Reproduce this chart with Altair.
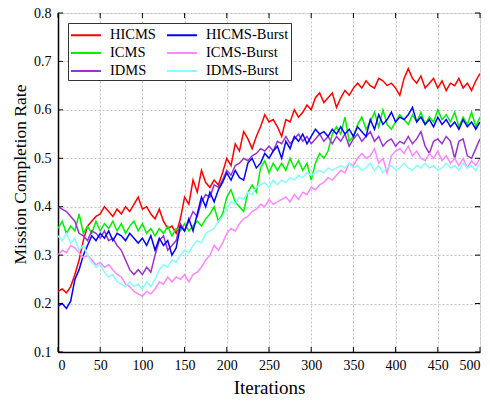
import altair as alt
import pandas as pd

iters = list(range(0, 501, 5))

hicms = [0.225, 0.23, 0.222, 0.235, 0.26, 0.29, 0.33, 0.36, 0.37, 0.38,
         0.385, 0.40, 0.39, 0.38, 0.395, 0.385, 0.40, 0.39, 0.405, 0.42,
         0.395, 0.40, 0.385, 0.375, 0.395, 0.37, 0.355, 0.36, 0.345, 0.375,
         0.42, 0.405, 0.455, 0.43, 0.475, 0.45, 0.44, 0.455, 0.445, 0.47,
         0.50, 0.485, 0.53, 0.515, 0.555, 0.54, 0.52, 0.545, 0.565, 0.59,
         0.575, 0.58, 0.565, 0.545, 0.58, 0.575, 0.60, 0.585, 0.595, 0.61,
         0.60, 0.625, 0.635, 0.615, 0.625, 0.635, 0.605, 0.625, 0.64, 0.63,
         0.645, 0.655, 0.645, 0.66, 0.65, 0.645, 0.665, 0.66, 0.65, 0.655,
         0.645, 0.63, 0.665, 0.685, 0.665, 0.655, 0.67, 0.645, 0.655, 0.665,
         0.645, 0.66, 0.64, 0.655, 0.65, 0.665, 0.645, 0.655, 0.64, 0.66, 0.675]

hicms_burst = [0.195, 0.20, 0.19, 0.205, 0.25, 0.27, 0.30, 0.32, 0.34, 0.33,
               0.345, 0.335, 0.35, 0.33, 0.345, 0.34, 0.33, 0.345, 0.335, 0.325,
               0.335, 0.32, 0.34, 0.31, 0.335, 0.32, 0.33, 0.30, 0.315, 0.36,
               0.35, 0.375, 0.35, 0.385, 0.42, 0.40, 0.43, 0.41, 0.435, 0.45,
               0.47, 0.455, 0.475, 0.46, 0.455, 0.49, 0.50, 0.48, 0.49, 0.51,
               0.50, 0.515, 0.525, 0.50, 0.535, 0.52, 0.545, 0.535, 0.55, 0.53,
               0.545, 0.56, 0.55, 0.555, 0.545, 0.56, 0.55, 0.565, 0.55, 0.56,
               0.545, 0.565, 0.555, 0.545, 0.58, 0.56, 0.59, 0.57, 0.58, 0.595,
               0.575, 0.585, 0.58, 0.59, 0.605, 0.575, 0.585, 0.57, 0.58, 0.565,
               0.585, 0.57, 0.58, 0.565, 0.575, 0.56, 0.58, 0.565, 0.575, 0.56, 0.575]

icms = [0.355, 0.37, 0.345, 0.36, 0.35, 0.385, 0.345, 0.36, 0.345, 0.37,
        0.35, 0.365, 0.355, 0.37, 0.35, 0.365, 0.345, 0.36, 0.37, 0.35,
        0.365, 0.345, 0.355, 0.34, 0.355, 0.345, 0.36, 0.34, 0.355, 0.35,
        0.365, 0.35, 0.36, 0.37, 0.36, 0.375, 0.385, 0.40, 0.37, 0.385,
        0.42, 0.435, 0.41, 0.40, 0.39, 0.43, 0.445, 0.43, 0.48, 0.495,
        0.47, 0.49, 0.475, 0.49, 0.475, 0.50, 0.48, 0.495, 0.475, 0.49,
        0.455, 0.49, 0.51, 0.50, 0.515, 0.55, 0.565, 0.55, 0.585, 0.535,
        0.545, 0.57, 0.585, 0.56, 0.575, 0.595, 0.565, 0.60, 0.57, 0.56,
        0.575, 0.59, 0.58, 0.57, 0.59, 0.575, 0.595, 0.57, 0.585, 0.575,
        0.60, 0.58, 0.59, 0.575, 0.595, 0.565, 0.585, 0.57, 0.595, 0.565, 0.585]

idms = [0.40, 0.395, 0.39, 0.38, 0.37, 0.345, 0.34, 0.33, 0.35, 0.345,
        0.335, 0.35, 0.33, 0.335, 0.32, 0.31, 0.29, 0.27, 0.26, 0.27,
        0.26, 0.275, 0.265, 0.30, 0.33, 0.34, 0.31, 0.32, 0.33, 0.365,
        0.35, 0.37, 0.39, 0.38, 0.41, 0.425, 0.42, 0.445, 0.44, 0.455,
        0.475, 0.465, 0.485, 0.49, 0.50, 0.495, 0.505, 0.51, 0.52, 0.515,
        0.525, 0.515, 0.535, 0.53, 0.545, 0.53, 0.54, 0.55, 0.535, 0.545,
        0.53, 0.54, 0.55, 0.535, 0.545, 0.53, 0.545, 0.535, 0.55, 0.525,
        0.54, 0.55, 0.535, 0.545, 0.555, 0.535, 0.545, 0.525, 0.535, 0.54,
        0.525, 0.535, 0.53, 0.545, 0.53, 0.54, 0.555, 0.525, 0.51, 0.535,
        0.54, 0.53, 0.545, 0.535, 0.50, 0.535, 0.54, 0.505, 0.50, 0.52, 0.54]

icms_burst = [0.30, 0.31, 0.305, 0.32, 0.315, 0.305, 0.295, 0.30, 0.29, 0.28,
              0.285, 0.275, 0.28, 0.27, 0.26, 0.255, 0.24, 0.235, 0.225, 0.22,
              0.215, 0.225, 0.22, 0.23, 0.245, 0.24, 0.255, 0.245, 0.255, 0.25,
              0.26, 0.245, 0.26, 0.265, 0.275, 0.29, 0.30, 0.32, 0.31, 0.325,
              0.345, 0.355, 0.35, 0.365, 0.375, 0.38, 0.39, 0.395, 0.405, 0.40,
              0.415, 0.405, 0.41, 0.415, 0.42, 0.41, 0.425, 0.415, 0.43, 0.425,
              0.44, 0.435, 0.445, 0.45, 0.46, 0.455, 0.465, 0.475, 0.47, 0.49,
              0.485, 0.50, 0.51, 0.50, 0.505, 0.52, 0.49, 0.50, 0.47, 0.505,
              0.515, 0.52, 0.51, 0.525, 0.505, 0.515, 0.50, 0.495, 0.51, 0.50,
              0.515, 0.495, 0.505, 0.49, 0.50, 0.485, 0.50, 0.48, 0.495, 0.485, 0.50]

idms_burst = [0.34, 0.33, 0.345, 0.325, 0.335, 0.31, 0.32, 0.30, 0.285, 0.275,
              0.28, 0.265, 0.255, 0.26, 0.245, 0.24, 0.235, 0.245, 0.235, 0.24,
              0.23, 0.245, 0.235, 0.25, 0.27, 0.28, 0.275, 0.29, 0.285, 0.30,
              0.31, 0.305, 0.32, 0.33, 0.325, 0.345, 0.35, 0.355, 0.37, 0.38,
              0.395, 0.41, 0.405, 0.42, 0.415, 0.43, 0.425, 0.44, 0.445, 0.45,
              0.44, 0.455, 0.445, 0.455, 0.45, 0.46, 0.455, 0.465, 0.46, 0.47,
              0.465, 0.47, 0.475, 0.47, 0.48, 0.475, 0.48, 0.485, 0.48, 0.49,
              0.48, 0.485, 0.475, 0.48, 0.49, 0.475, 0.485, 0.47, 0.48, 0.485,
              0.475, 0.48, 0.49, 0.48, 0.475, 0.485, 0.48, 0.49, 0.48, 0.485,
              0.475, 0.48, 0.49, 0.48, 0.485, 0.475, 0.49, 0.48, 0.485, 0.475, 0.49]

series_names = ["HICMS", "ICMS", "IDMS", "HICMS-Burst", "ICMS-Burst", "IDMS-Burst"]
series_colors = ["#FF0000", "#00EE00", "#9933CC", "#0000FF", "#FF88FF", "#88FFFF"]
values_by_name = {"HICMS": hicms, "HICMS-Burst": hicms_burst, "ICMS": icms,
                  "ICMS-Burst": icms_burst, "IDMS": idms, "IDMS-Burst": idms_burst}

x_ticks = [0, 50, 100, 150, 200, 250, 300, 350, 400, 450, 500]
y_ticks = [0.1, 0.2, 0.3, 0.4, 0.5, 0.6, 0.7, 0.8]

rows = []
for k, name in enumerate(series_names):
    for i, v in zip(iters, values_by_name[name]):
        rows.append({"iter": i, "value": v, "series": name, "order": k})
df = pd.DataFrame(rows)

W, H = 422, 339
FONT = "Liberation Serif"

xscale = alt.Scale(domain=[0, 500], nice=False, zero=False)
yscale = alt.Scale(domain=[0.1, 0.8], nice=False, zero=False)

lines = alt.Chart(df).mark_line(strokeWidth=1.5, clip=True).encode(
    x=alt.X("iter:Q", scale=xscale,
            axis=alt.Axis(values=x_ticks, title="Iterations", grid=True, gridDash=[2, 2],
                          gridColor="#c4c4c4", gridOpacity=1, ticks=False, labelPadding=6,
                          labelFont=FONT, labelFontSize=14, labelColor="black",
                          titleFont=FONT, titleFontSize=19, titleFontWeight="normal",
                          titleColor="black", titlePadding=6, domainColor="black",
                          domainWidth=1.5)),
    y=alt.Y("value:Q", scale=yscale,
            axis=alt.Axis(values=y_ticks, title="Mission Completion Rate", grid=True,
                          gridDash=[2, 2], gridColor="#c4c4c4", gridOpacity=1, ticks=False,
                          labelPadding=7, labelFont=FONT, labelFontSize=14,
                          labelColor="black", format=".1f", titleFont=FONT,
                          titleFontSize=17.5, titleFontWeight="normal", titleColor="black",
                          titleX=-38, titleY=161, titleBaseline="middle",
                          domainColor="black", domainWidth=1.5)),
    color=alt.Color("series:N",
                    scale=alt.Scale(domain=series_names, range=series_colors),
                    legend=alt.Legend(orient="none", legendX=10, legendY=10, columns=2,
                                      title=None, symbolType="M-1,0H2.333",
                                      symbolSize=324, symbolStrokeWidth=2,
                                      symbolFillColor="transparent",
                                      labelFont=FONT, labelFontSize=14.5,
                                      labelColor="black", strokeColor="#333333",
                                      fillColor="white", padding=2, rowPadding=1,
                                      columnPadding=7, labelOffset=20)),
    order=alt.Order("order:Q"),
    detail="series:N",
)

xt = pd.DataFrame({"t": x_ticks})
yt = pd.DataFrame({"t": y_ticks})

bottom_ticks = alt.Chart(xt).mark_rule(color="black", strokeWidth=1).encode(
    x=alt.X("t:Q", scale=xscale), y=alt.value(H), y2=alt.value(H - 5))
top_ticks = alt.Chart(xt).mark_rule(color="black", strokeWidth=1).encode(
    x=alt.X("t:Q", scale=xscale), y=alt.value(0), y2=alt.value(5))
left_ticks = alt.Chart(yt).mark_rule(color="black", strokeWidth=1).encode(
    y=alt.Y("t:Q", scale=yscale), x=alt.value(0), x2=alt.value(5))
right_ticks = alt.Chart(yt).mark_rule(color="black", strokeWidth=1).encode(
    y=alt.Y("t:Q", scale=yscale), x=alt.value(W), x2=alt.value(W - 5))

chart = alt.layer(lines, bottom_ticks, top_ticks, left_ticks, right_ticks).properties(
    width=W, height=H,
    padding={"left": 58, "top": 13, "right": 10, "bottom": 49},
    autosize=alt.AutoSizeParams(type="none"),
).configure_view(stroke="#222222", strokeWidth=1.5).configure(background="white")

chart.save("out.html", embed_options={"renderer": "svg", "actions": False})
